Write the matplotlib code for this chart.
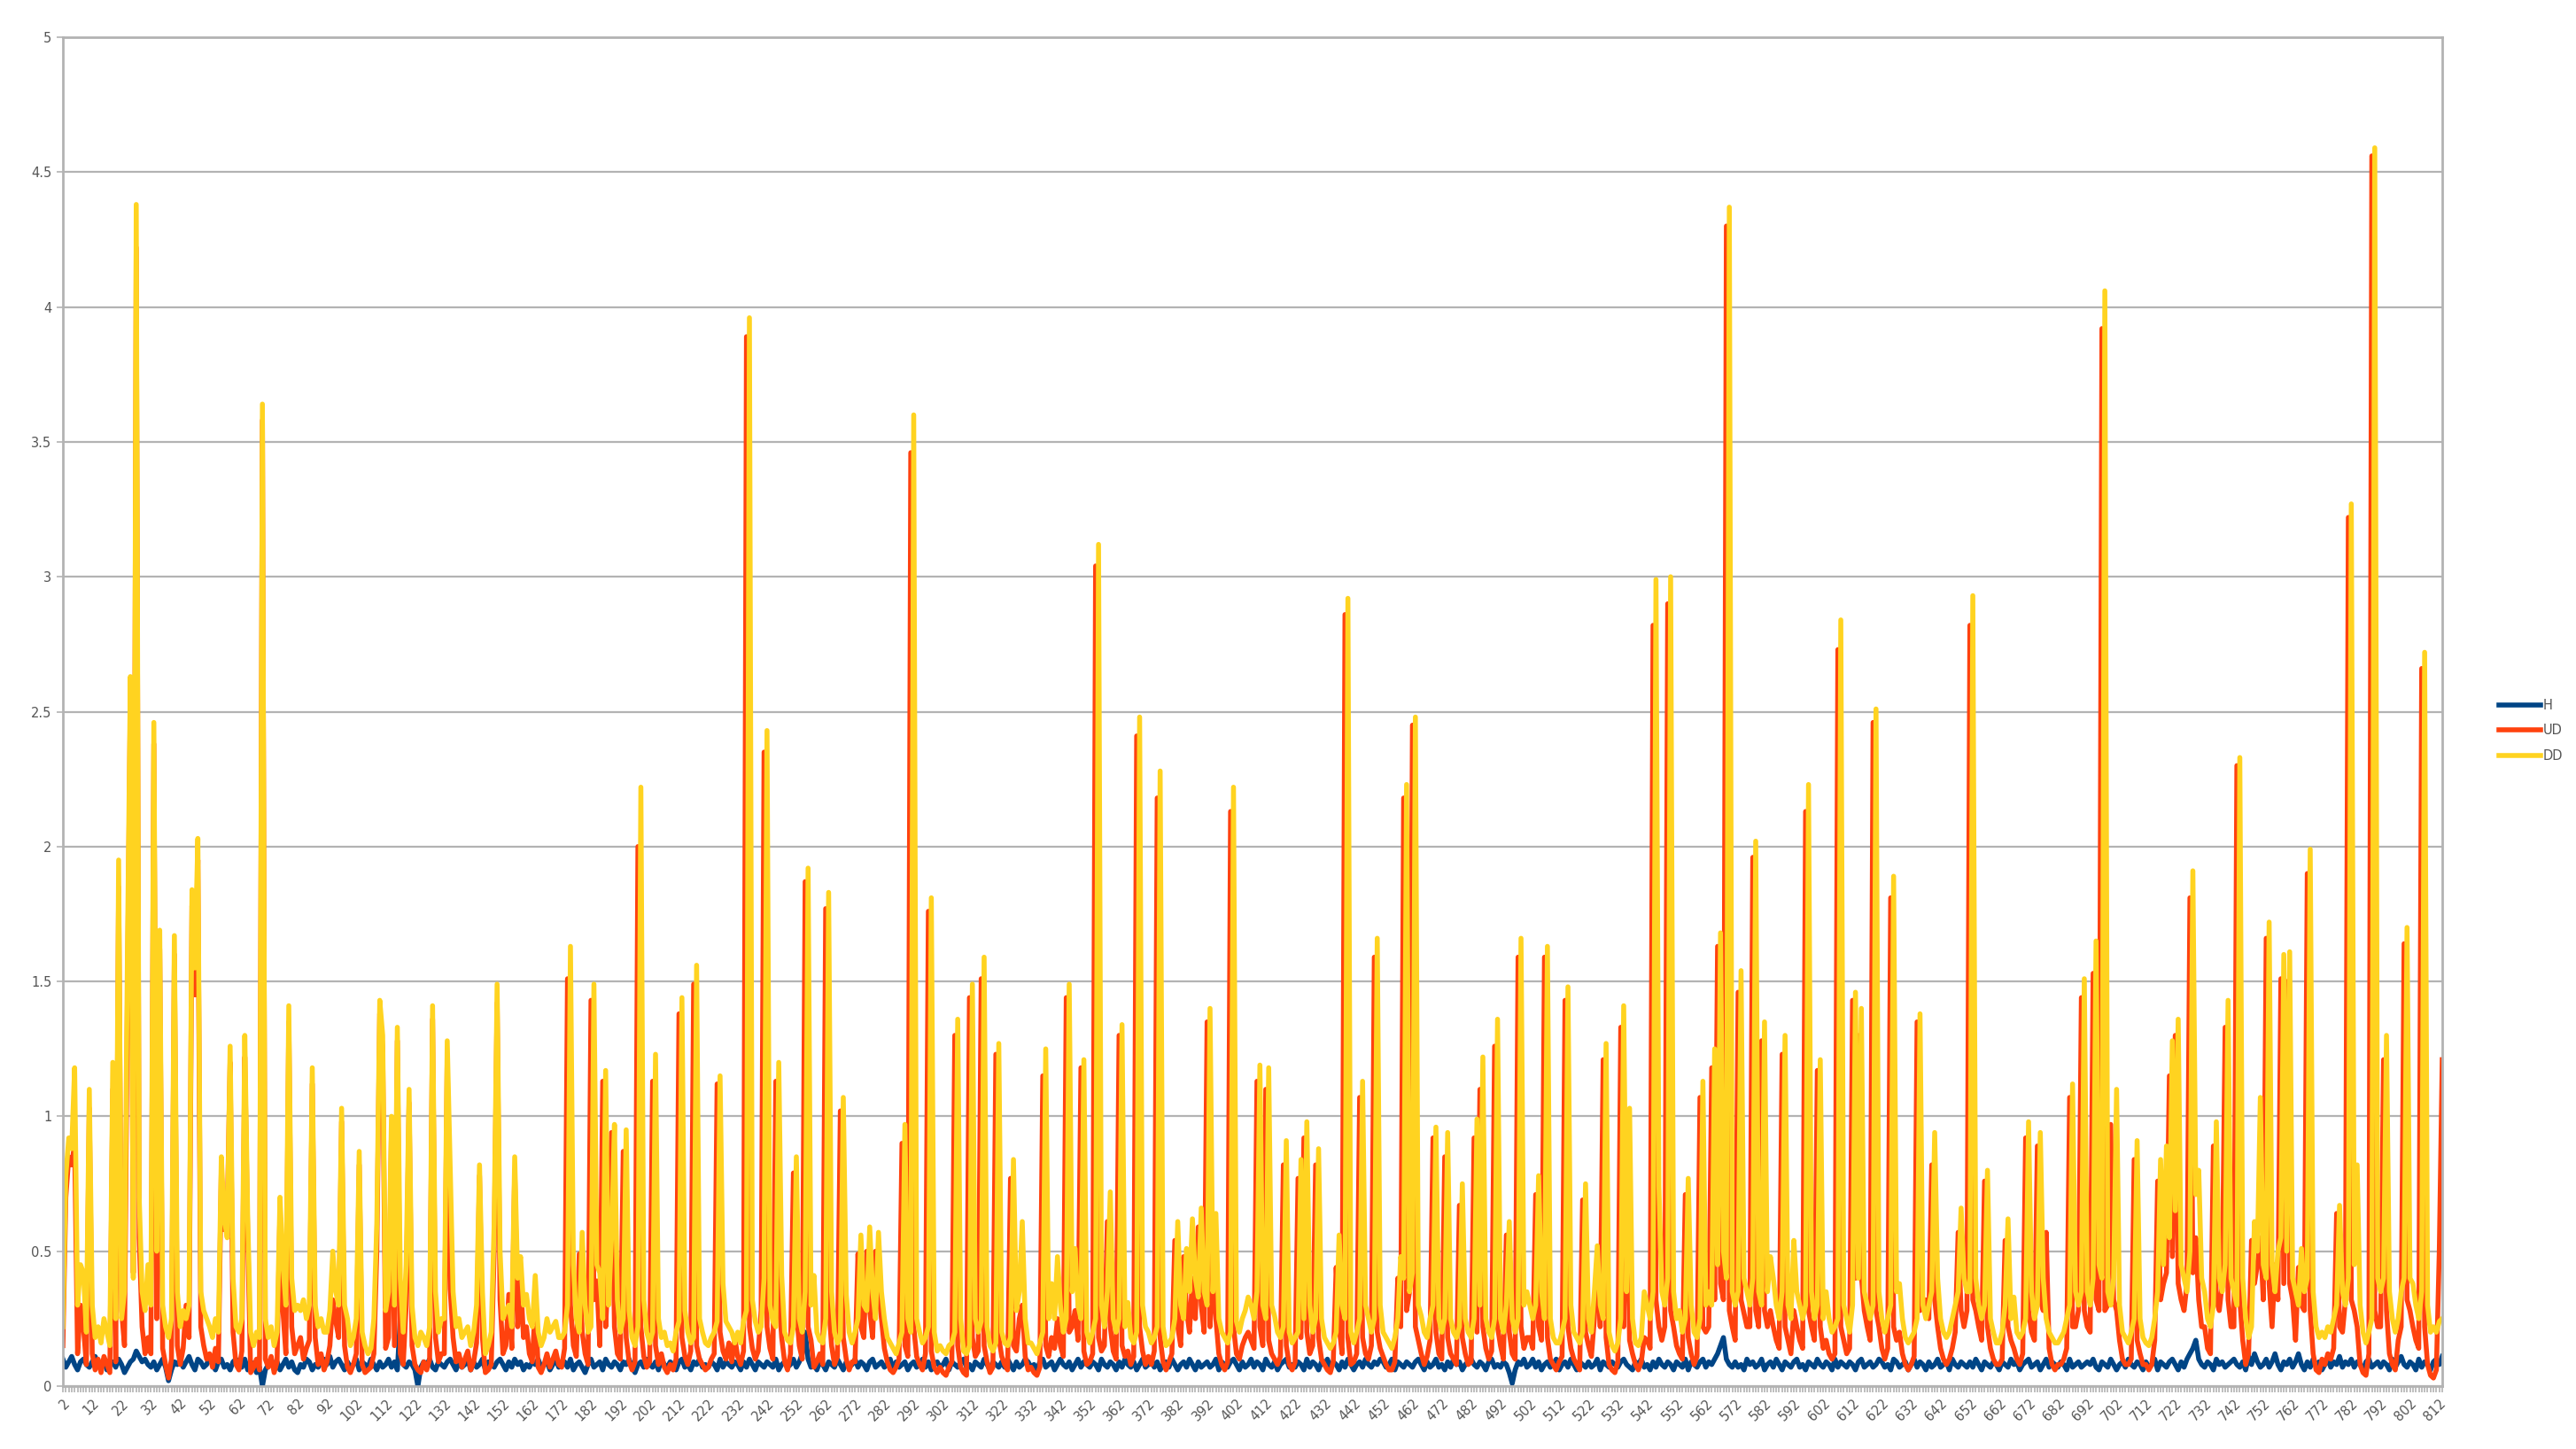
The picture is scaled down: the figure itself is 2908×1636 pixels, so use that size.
import numpy as np
import matplotlib.pyplot as plt

plt.rcParams["font.family"] = ["DejaVu Sans"]

# one row = one label step of 10 categories (2-11, 12-21, ...)
H = [
    0.10, 0.07, 0.09, 0.11, 0.08, 0.06, 0.09, 0.10, 0.08, 0.07,
    0.09, 0.11, 0.08, 0.07, 0.10, 0.06, 0.08, 0.09, 0.07, 0.10,
    0.08, 0.05, 0.07, 0.09, 0.10, 0.13, 0.11, 0.09, 0.10, 0.08,
    0.07, 0.09, 0.06, 0.08, 0.10, 0.07, 0.02, 0.06, 0.09, 0.08,
    0.10, 0.07, 0.09, 0.11, 0.08, 0.06, 0.10, 0.09, 0.07, 0.08,
    0.11, 0.08, 0.06, 0.09, 0.10, 0.07, 0.08, 0.06, 0.09, 0.10,
    0.08, 0.07, 0.10, 0.06, 0.09, 0.08, 0.05, 0.07, 0.00, 0.06,
    0.08, 0.10, 0.07, 0.09, 0.06, 0.08, 0.10, 0.07, 0.09, 0.06,
    0.05, 0.08, 0.07, 0.10, 0.09, 0.06, 0.08, 0.07, 0.09, 0.10,
    0.08, 0.11, 0.07, 0.09, 0.10, 0.08, 0.06, 0.09, 0.07, 0.08,
    0.10, 0.06, 0.09, 0.08, 0.07, 0.10, 0.08, 0.06, 0.09, 0.07,
    0.08, 0.10, 0.07, 0.09, 0.06, 0.25, 0.08, 0.07, 0.09, 0.08,
    0.06, 0.00, 0.07, 0.09, 0.08, 0.10, 0.07, 0.06, 0.09, 0.08,
    0.07, 0.09, 0.10, 0.08, 0.06, 0.09, 0.07, 0.08, 0.10, 0.06,
    0.09, 0.07, 0.08, 0.10, 0.06, 0.09, 0.08, 0.07, 0.09, 0.10,
    0.08, 0.06, 0.09, 0.07, 0.10, 0.08, 0.09, 0.06, 0.08, 0.07,
    0.09, 0.08, 0.10, 0.07, 0.08, 0.09, 0.06, 0.08, 0.10, 0.07,
    0.08, 0.09, 0.07, 0.10, 0.06, 0.08, 0.09, 0.07, 0.05, 0.08,
    0.10, 0.07, 0.08, 0.09, 0.06, 0.10, 0.08, 0.07, 0.09, 0.08,
    0.06, 0.09, 0.08, 0.10, 0.07, 0.05, 0.08, 0.09, 0.07, 0.10,
    0.08, 0.07, 0.09, 0.06, 0.10, 0.08, 0.07, 0.09, 0.08, 0.06,
    0.09, 0.10, 0.07, 0.08, 0.06, 0.09, 0.08, 0.10, 0.07, 0.08,
    0.07, 0.09, 0.08, 0.06, 0.10, 0.07, 0.09, 0.08, 0.07, 0.09,
    0.08, 0.06, 0.09, 0.07, 0.10, 0.08, 0.06, 0.09, 0.08, 0.07,
    0.09, 0.08, 0.07, 0.10, 0.06, 0.08, 0.09, 0.07, 0.08, 0.10,
    0.07, 0.09, 0.12, 0.20, 0.10, 0.07, 0.08, 0.06, 0.09, 0.08,
    0.06, 0.09, 0.08, 0.07, 0.10, 0.08, 0.06, 0.09, 0.07, 0.08,
    0.10, 0.07, 0.09, 0.08, 0.06, 0.09, 0.10, 0.07, 0.08, 0.09,
    0.07, 0.08, 0.10, 0.06, 0.09, 0.07, 0.08, 0.09, 0.06, 0.08,
    0.09, 0.07, 0.08, 0.10, 0.07, 0.09, 0.06, 0.08, 0.09, 0.07,
    0.08, 0.10, 0.06, 0.09, 0.08, 0.07, 0.09, 0.10, 0.07, 0.08,
    0.06, 0.09, 0.08, 0.07, 0.10, 0.08, 0.06, 0.09, 0.08, 0.07,
    0.09, 0.07, 0.10, 0.08, 0.06, 0.09, 0.07, 0.08, 0.10, 0.09,
    0.07, 0.08, 0.06, 0.09, 0.10, 0.07, 0.08, 0.09, 0.06, 0.08,
    0.10, 0.08, 0.07, 0.09, 0.06, 0.08, 0.10, 0.07, 0.09, 0.08,
    0.07, 0.09, 0.08, 0.06, 0.10, 0.08, 0.07, 0.09, 0.08, 0.06,
    0.09, 0.07, 0.10, 0.08, 0.07, 0.09, 0.06, 0.08, 0.10, 0.07,
    0.08, 0.10, 0.07, 0.09, 0.06, 0.08, 0.09, 0.07, 0.10, 0.08,
    0.06, 0.08, 0.09, 0.07, 0.10, 0.08, 0.06, 0.09, 0.07, 0.08,
    0.09, 0.07, 0.08, 0.10, 0.06, 0.09, 0.08, 0.07, 0.09, 0.10,
    0.08, 0.06, 0.09, 0.07, 0.08, 0.10, 0.07, 0.09, 0.08, 0.06,
    0.10, 0.08, 0.07, 0.09, 0.06, 0.08, 0.09, 0.10, 0.07, 0.08,
    0.07, 0.09, 0.08, 0.06, 0.10, 0.07, 0.09, 0.08, 0.06, 0.09,
    0.08, 0.10, 0.07, 0.09, 0.08, 0.06, 0.09, 0.07, 0.10, 0.08,
    0.06, 0.08, 0.09, 0.07, 0.10, 0.08, 0.07, 0.09, 0.08, 0.10,
    0.09, 0.07, 0.08, 0.10, 0.06, 0.09, 0.08, 0.07, 0.09, 0.08,
    0.07, 0.09, 0.10, 0.08, 0.06, 0.09, 0.07, 0.08, 0.10, 0.07,
    0.08, 0.06, 0.09, 0.07, 0.10, 0.08, 0.09, 0.06, 0.08, 0.09,
    0.10, 0.08, 0.07, 0.09, 0.08, 0.06, 0.09, 0.10, 0.07, 0.08,
    0.07, 0.09, 0.08, 0.05, 0.01, 0.06, 0.09, 0.08, 0.10, 0.07,
    0.08, 0.10, 0.07, 0.09, 0.06, 0.08, 0.09, 0.07, 0.08, 0.10,
    0.06, 0.08, 0.09, 0.07, 0.10, 0.08, 0.06, 0.09, 0.08, 0.07,
    0.09, 0.07, 0.08, 0.10, 0.06, 0.09, 0.08, 0.07, 0.09, 0.08,
    0.07, 0.09, 0.10, 0.08, 0.07, 0.06, 0.09, 0.08, 0.10, 0.07,
    0.08, 0.06, 0.09, 0.07, 0.10, 0.08, 0.07, 0.09, 0.08, 0.06,
    0.09, 0.08, 0.07, 0.10, 0.06, 0.09, 0.08, 0.07, 0.09, 0.10,
    0.07, 0.09, 0.08, 0.10, 0.12, 0.15, 0.18, 0.10, 0.08, 0.07,
    0.09, 0.07, 0.08, 0.06, 0.10, 0.08, 0.09, 0.07, 0.08, 0.10,
    0.06, 0.08, 0.09, 0.07, 0.10, 0.08, 0.06, 0.09, 0.08, 0.07,
    0.09, 0.10, 0.07, 0.08, 0.06, 0.09, 0.08, 0.07, 0.10, 0.08,
    0.07, 0.09, 0.08, 0.06, 0.10, 0.07, 0.09, 0.08, 0.07, 0.09,
    0.08, 0.06, 0.09, 0.10, 0.07, 0.08, 0.09, 0.07, 0.08, 0.10,
    0.09, 0.07, 0.08, 0.06, 0.10, 0.09, 0.07, 0.08, 0.09, 0.06,
    0.08, 0.10, 0.07, 0.09, 0.08, 0.06, 0.09, 0.07, 0.08, 0.10,
    0.07, 0.08, 0.09, 0.06, 0.10, 0.08, 0.07, 0.09, 0.08, 0.07,
    0.09, 0.07, 0.10, 0.08, 0.06, 0.09, 0.08, 0.07, 0.09, 0.08,
    0.06, 0.09, 0.08, 0.07, 0.10, 0.08, 0.09, 0.06, 0.08, 0.09,
    0.10, 0.07, 0.08, 0.09, 0.06, 0.08, 0.10, 0.07, 0.09, 0.08,
    0.07, 0.09, 0.08, 0.06, 0.10, 0.07, 0.08, 0.09, 0.07, 0.08,
    0.09, 0.08, 0.10, 0.07, 0.06, 0.09, 0.08, 0.07, 0.10, 0.08,
    0.06, 0.08, 0.09, 0.07, 0.10, 0.08, 0.07, 0.09, 0.08, 0.06,
    0.09, 0.07, 0.08, 0.10, 0.06, 0.09, 0.08, 0.07, 0.09, 0.10,
    0.08, 0.06, 0.09, 0.07, 0.10, 0.12, 0.14, 0.17, 0.10, 0.08,
    0.07, 0.09, 0.08, 0.06, 0.10, 0.08, 0.09, 0.07, 0.08, 0.09,
    0.10, 0.08, 0.07, 0.09, 0.06, 0.11, 0.08, 0.12, 0.09, 0.07,
    0.08, 0.10, 0.07, 0.09, 0.12, 0.08, 0.06, 0.09, 0.08, 0.10,
    0.07, 0.09, 0.12, 0.08, 0.06, 0.09, 0.07, 0.10, 0.08, 0.09,
    0.06, 0.08, 0.10, 0.07, 0.09, 0.08, 0.11, 0.07, 0.09, 0.08,
    0.10, 0.07, 0.09, 0.08, 0.06, 0.09, 0.10, 0.07, 0.08, 0.09,
    0.07, 0.09, 0.08, 0.06, 0.10, 0.07, 0.09, 0.11, 0.08, 0.07,
    0.09, 0.08, 0.06, 0.10, 0.07, 0.09, 0.08, 0.06, 0.09, 0.10,
    0.08, 0.11,
]

UD = [
    0.15, 0.70, 0.85, 0.82, 0.90, 0.12, 0.30, 0.22, 0.08, 1.03,
    0.12, 0.06, 0.10, 0.05, 0.11, 0.08, 0.05, 1.10, 0.09, 1.85,
    0.28, 0.15, 1.45, 2.55, 0.42, 4.22, 0.55, 0.22, 0.12, 0.18,
    0.12, 2.38, 0.25, 1.62, 0.14, 0.08, 0.03, 0.10, 1.60, 0.15,
    0.08, 0.14, 0.30, 0.18, 1.78, 1.45, 1.95, 0.22, 0.15, 0.10,
    0.12, 0.07, 0.14, 0.09, 0.80, 0.58, 0.62, 1.20, 0.20, 0.08,
    0.06, 0.13, 1.22, 0.55, 0.05, 0.07, 0.10, 0.06, 3.58, 0.10,
    0.07, 0.11, 0.05, 0.09, 0.65, 0.28, 0.12, 1.35, 0.22, 0.12,
    0.15, 0.18, 0.10, 0.14, 0.17, 1.12, 0.18, 0.08, 0.12, 0.06,
    0.09, 0.15, 0.32, 0.24, 0.18, 0.98, 0.15, 0.07, 0.05, 0.08,
    0.12, 0.82, 0.08, 0.05, 0.06, 0.07, 0.12, 0.50, 1.38, 1.25,
    0.14, 0.18, 0.95, 0.15, 1.28, 0.12, 0.08, 0.30, 1.05, 0.15,
    0.08, 0.06, 0.05, 0.09, 0.06, 0.10, 1.36, 0.18, 0.09, 0.12,
    0.12, 1.22, 0.36, 0.18, 0.09, 0.12, 0.07, 0.10, 0.13, 0.06,
    0.09, 0.16, 0.78, 0.18, 0.05, 0.06, 0.08, 0.50, 1.42, 0.32,
    0.12, 0.15, 0.34, 0.14, 0.80, 0.22, 0.40, 0.18, 0.22, 0.12,
    0.09, 0.30, 0.07, 0.05, 0.08, 0.12, 0.07, 0.10, 0.13, 0.08,
    0.07, 0.14, 1.51, 0.30, 0.15, 0.11, 0.49, 0.20, 0.12, 0.08,
    1.43, 0.32, 0.39, 0.15, 1.13, 0.22, 0.45, 0.94, 0.22, 0.12,
    0.10, 0.87, 0.18, 0.09, 0.06, 0.09, 2.00, 0.22, 0.11, 0.07,
    0.09, 1.13, 0.15, 0.08, 0.12, 0.07, 0.05, 0.08, 0.06, 0.10,
    1.38, 0.18, 0.11, 0.08, 0.13, 1.49, 0.15, 0.10, 0.08, 0.06,
    0.07, 0.10, 0.12, 1.12, 0.20, 0.13, 0.10, 0.16, 0.09, 0.18,
    0.11, 0.08, 0.13, 3.89, 0.22, 0.14, 0.10, 0.13, 0.28, 2.35,
    0.22, 0.14, 0.10, 1.13, 0.33, 0.18, 0.09, 0.06, 0.12, 0.79,
    0.28, 0.15, 0.10, 1.87, 0.22, 0.17, 0.07, 0.09, 0.12, 0.08,
    1.77, 0.31, 0.15, 0.08, 0.11, 1.02, 0.18, 0.10, 0.06, 0.09,
    0.09, 0.49, 0.22, 0.18, 0.50, 0.28, 0.18, 0.50, 0.35, 0.25,
    0.14, 0.09, 0.06, 0.05, 0.07, 0.10, 0.90, 0.15, 0.11, 3.46,
    0.22, 0.11, 0.08, 0.06, 0.12, 1.76, 0.13, 0.07, 0.05, 0.07,
    0.05, 0.04, 0.07, 0.09, 1.30, 0.15, 0.07, 0.05, 0.04, 1.44,
    0.18, 0.11, 0.13, 1.51, 0.15, 0.09, 0.05, 0.07, 1.23, 0.18,
    0.11, 0.08, 0.06, 0.77, 0.15, 0.13, 0.25, 0.30, 0.11, 0.06,
    0.07, 0.05, 0.04, 0.07, 1.15, 0.15, 0.11, 0.18, 0.14, 0.25,
    0.15, 0.11, 1.44, 0.20, 0.22, 0.28, 0.17, 1.18, 0.13, 0.08,
    0.09, 0.12, 3.04, 0.18, 0.13, 0.15, 0.61, 0.22, 0.13, 0.10,
    1.30, 0.15, 0.11, 0.13, 0.08, 0.11, 2.41, 0.22, 0.13, 0.08,
    0.11, 0.08, 0.13, 2.18, 0.18, 0.09, 0.06, 0.09, 0.12, 0.54,
    0.22, 0.15, 0.48, 0.28, 0.20, 0.40, 0.25, 0.59, 0.30, 0.20,
    1.35, 0.22, 0.45, 0.25, 0.12, 0.08, 0.06, 0.09, 2.13, 0.22,
    0.12, 0.10, 0.15, 0.18, 0.20, 0.17, 0.14, 1.13, 0.22, 0.15,
    1.10, 0.17, 0.12, 0.10, 0.08, 0.11, 0.82, 0.15, 0.08, 0.06,
    0.09, 0.77, 0.18, 0.92, 0.20, 0.12, 0.15, 0.82, 0.18, 0.10,
    0.08, 0.06, 0.05, 0.09, 0.44, 0.22, 0.12, 2.86, 0.18, 0.08,
    0.09, 0.12, 1.07, 0.18, 0.12, 0.10, 0.15, 1.59, 0.20, 0.14,
    0.11, 0.08, 0.06, 0.06, 0.09, 0.40, 0.22, 2.18, 0.28, 0.35,
    2.45, 0.22, 0.17, 0.12, 0.08, 0.11, 0.17, 0.92, 0.20, 0.12,
    0.10, 0.85, 0.18, 0.12, 0.10, 0.08, 0.67, 0.18, 0.12, 0.08,
    0.09, 0.92, 0.20, 1.10, 0.22, 0.14, 0.10, 0.13, 1.26, 0.22,
    0.15, 0.10, 0.56, 0.20, 0.12, 0.10, 1.59, 0.22, 0.14, 0.18,
    0.18, 0.14, 0.71, 0.22, 0.17, 1.59, 0.18, 0.10, 0.08, 0.06,
    0.09, 0.11, 1.43, 0.22, 0.14, 0.10, 0.08, 0.06, 0.69, 0.20,
    0.15, 0.11, 0.25, 0.48, 0.22, 1.21, 0.18, 0.08, 0.06, 0.05,
    0.09, 1.33, 0.22, 0.95, 0.17, 0.12, 0.08, 0.06, 0.09, 0.18,
    0.17, 0.14, 2.82, 0.32, 0.22, 0.17, 0.22, 2.90, 0.28, 0.22,
    0.15, 0.12, 0.10, 0.71, 0.18, 0.12, 0.08, 0.11, 1.07, 0.22,
    0.20, 0.22, 1.18, 0.32, 1.63, 0.38, 0.32, 4.30, 0.28, 0.22,
    0.17, 1.46, 0.32, 0.27, 0.22, 0.22, 1.96, 0.28, 0.22, 1.28,
    0.28, 0.22, 0.28, 0.22, 0.17, 0.14, 1.23, 0.22, 0.17, 0.12,
    0.28, 0.22, 0.17, 0.14, 2.13, 0.28, 0.22, 0.17, 1.17, 0.22,
    0.14, 0.17, 0.12, 0.10, 0.12, 2.73, 0.22, 0.17, 0.12, 0.14,
    1.43, 0.40, 1.30, 0.41, 0.28, 0.22, 0.17, 2.46, 0.28, 0.22,
    0.14, 0.10, 0.14, 1.81, 0.22, 0.17, 0.20, 0.12, 0.08, 0.06,
    0.08, 0.11, 1.35, 0.28, 0.30, 0.32, 0.25, 0.82, 0.32, 0.22,
    0.14, 0.10, 0.08, 0.10, 0.14, 0.20, 0.57, 0.28, 0.22, 0.28,
    2.82, 0.32, 0.28, 0.22, 0.17, 0.76, 0.22, 0.14, 0.10, 0.08,
    0.08, 0.10, 0.54, 0.22, 0.17, 0.14, 0.10, 0.08, 0.12, 0.92,
    0.28, 0.20, 0.17, 0.89, 0.32, 0.28, 0.57, 0.14, 0.08, 0.06,
    0.08, 0.08, 0.10, 0.14, 1.07, 0.22, 0.22, 0.28, 1.44, 0.28,
    0.22, 0.20, 1.53, 0.32, 0.28, 3.92, 0.28, 0.30, 0.97, 0.32,
    0.28, 0.17, 0.10, 0.08, 0.08, 0.10, 0.84, 0.17, 0.12, 0.08,
    0.08, 0.06, 0.08, 0.17, 0.76, 0.32, 0.38, 0.42, 1.15, 0.48,
    1.30, 0.38, 0.32, 0.28, 0.38, 1.81, 0.42, 0.55, 0.32, 0.22,
    0.22, 0.14, 0.12, 0.89, 0.32, 0.28, 0.38, 1.33, 0.32, 0.22,
    0.22, 2.30, 0.32, 0.17, 0.08, 0.12, 0.54, 0.38, 0.45, 0.55,
    0.32, 1.66, 0.38, 0.22, 0.45, 0.32, 1.51, 0.38, 1.50, 0.38,
    0.32, 0.17, 0.44, 0.30, 0.28, 1.90, 0.28, 0.12, 0.06, 0.05,
    0.10, 0.08, 0.12, 0.10, 0.14, 0.64, 0.22, 0.20, 0.32, 3.22,
    0.32, 0.28, 0.22, 0.08, 0.05, 0.04, 0.12, 4.56, 0.28, 0.22,
    0.22, 1.21, 0.28, 0.12, 0.08, 0.06, 0.17, 0.22, 1.64, 0.32,
    0.28, 0.22, 0.17, 0.14, 2.66, 0.22, 0.08, 0.04, 0.03, 0.06,
    0.50, 1.21,
]

DD = [
    0.22, 0.78, 0.92, 0.88, 1.18, 0.30, 0.45, 0.42, 0.20, 1.10,
    0.30, 0.18, 0.22, 0.16, 0.25, 0.20, 0.15, 1.20, 0.25, 1.95,
    0.25, 0.35, 1.60, 2.63, 0.40, 4.38, 0.70, 0.35, 0.28, 0.45,
    0.30, 2.46, 0.50, 1.69, 0.30, 0.22, 0.18, 0.25, 1.67, 0.35,
    0.22, 0.28, 0.25, 0.30, 1.84, 1.55, 2.03, 0.35, 0.28, 0.25,
    0.22, 0.18, 0.25, 0.20, 0.85, 0.62, 0.55, 1.26, 0.40, 0.22,
    0.20, 0.25, 1.30, 0.62, 0.20, 0.15, 0.20, 0.18, 3.64, 0.25,
    0.18, 0.22, 0.15, 0.20, 0.70, 0.45, 0.30, 1.41, 0.40, 0.28,
    0.30, 0.28, 0.32, 0.25, 0.30, 1.18, 0.30, 0.22, 0.25, 0.20,
    0.20, 0.28, 0.50, 0.35, 0.30, 1.03, 0.30, 0.25, 0.15, 0.18,
    0.25, 0.87, 0.20, 0.15, 0.12, 0.14, 0.25, 0.60, 1.43, 1.30,
    0.28, 0.35, 1.00, 0.30, 1.33, 0.40, 0.20, 0.45, 1.10, 0.30,
    0.18, 0.15, 0.20, 0.18, 0.15, 0.22, 1.41, 0.35, 0.20, 0.25,
    0.25, 1.28, 0.82, 0.35, 0.22, 0.25, 0.18, 0.20, 0.22, 0.15,
    0.20, 0.30, 0.82, 0.35, 0.12, 0.15, 0.20, 0.60, 1.49, 0.50,
    0.25, 0.28, 0.30, 0.22, 0.85, 0.40, 0.48, 0.30, 0.34, 0.25,
    0.22, 0.41, 0.20, 0.15, 0.18, 0.25, 0.20, 0.22, 0.24, 0.18,
    0.18, 0.20, 0.30, 1.63, 0.45, 0.25, 0.20, 0.57, 0.30, 0.20,
    0.22, 1.49, 0.45, 0.42, 0.25, 1.17, 0.30, 0.55, 0.97, 0.32,
    0.20, 0.25, 0.95, 0.28, 0.18, 0.15, 0.22, 2.22, 0.32, 0.20,
    0.16, 0.20, 1.23, 0.25, 0.18, 0.20, 0.15, 0.16, 0.13, 0.20,
    0.24, 1.44, 0.28, 0.20, 0.16, 0.18, 1.56, 0.25, 0.20, 0.16,
    0.15, 0.18, 0.20, 0.24, 1.15, 0.38, 0.24, 0.22, 0.20, 0.16,
    0.20, 0.16, 0.24, 0.28, 3.96, 0.32, 0.24, 0.20, 0.22, 0.40,
    2.43, 0.30, 0.24, 0.22, 1.20, 0.41, 0.20, 0.17, 0.16, 0.22,
    0.85, 0.25, 0.20, 0.35, 1.92, 0.30, 0.41, 0.20, 0.17, 0.16,
    0.25, 1.83, 0.35, 0.20, 0.16, 0.18, 1.07, 0.34, 0.20, 0.16,
    0.20, 0.25, 0.56, 0.30, 0.28, 0.59, 0.35, 0.25, 0.57, 0.35,
    0.25, 0.18, 0.16, 0.14, 0.12, 0.16, 0.20, 0.97, 0.25, 0.20,
    3.60, 0.25, 0.20, 0.16, 0.18, 0.22, 1.81, 0.20, 0.13, 0.15,
    0.13, 0.12, 0.15, 0.16, 0.20, 1.36, 0.25, 0.13, 0.12, 0.15,
    1.49, 0.25, 0.20, 0.24, 1.59, 0.22, 0.15, 0.13, 0.16, 1.27,
    0.20, 0.16, 0.15, 0.18, 0.84, 0.28, 0.35, 0.61, 0.25, 0.16,
    0.16, 0.14, 0.12, 0.16, 0.20, 1.25, 0.25, 0.38, 0.25, 0.48,
    0.30, 0.20, 0.25, 1.49, 0.35, 0.51, 0.30, 0.25, 1.21, 0.20,
    0.16, 0.20, 0.25, 3.12, 0.30, 0.22, 0.35, 0.72, 0.25, 0.20,
    0.25, 1.34, 0.22, 0.31, 0.18, 0.16, 0.20, 2.48, 0.30, 0.22,
    0.20, 0.16, 0.18, 0.22, 2.28, 0.22, 0.15, 0.16, 0.18, 0.25,
    0.61, 0.30, 0.25, 0.51, 0.35, 0.62, 0.40, 0.33, 0.66, 0.35,
    0.30, 1.40, 0.35, 0.64, 0.25, 0.20, 0.18, 0.16, 0.20, 2.22,
    0.24, 0.20, 0.25, 0.28, 0.33, 0.30, 0.25, 0.35, 1.19, 0.30,
    0.25, 1.18, 0.30, 0.26, 0.20, 0.18, 0.22, 0.91, 0.20, 0.16,
    0.18, 0.20, 0.84, 0.25, 0.98, 0.30, 0.20, 0.25, 0.88, 0.25,
    0.18, 0.16, 0.14, 0.16, 0.20, 0.56, 0.30, 0.25, 2.92, 0.20,
    0.16, 0.20, 0.25, 1.13, 0.30, 0.25, 0.20, 0.25, 1.66, 0.30,
    0.20, 0.18, 0.16, 0.14, 0.18, 0.25, 0.48, 0.40, 2.23, 0.35,
    0.42, 2.48, 0.30, 0.26, 0.20, 0.18, 0.25, 0.30, 0.96, 0.25,
    0.20, 0.25, 0.94, 0.25, 0.20, 0.18, 0.22, 0.75, 0.25, 0.20,
    0.18, 0.25, 0.99, 0.30, 1.22, 0.25, 0.20, 0.18, 0.25, 1.36,
    0.25, 0.20, 0.30, 0.61, 0.25, 0.20, 0.25, 1.66, 0.30, 0.35,
    0.30, 0.25, 0.30, 0.78, 0.35, 0.25, 1.63, 0.25, 0.18, 0.16,
    0.16, 0.20, 0.25, 1.48, 0.30, 0.20, 0.18, 0.16, 0.20, 0.75,
    0.25, 0.20, 0.35, 0.52, 0.30, 0.25, 1.27, 0.20, 0.15, 0.13,
    0.16, 0.25, 1.41, 0.35, 1.03, 0.25, 0.16, 0.15, 0.18, 0.35,
    0.30, 0.25, 0.35, 2.99, 0.74, 0.35, 0.30, 0.40, 3.00, 0.35,
    0.25, 0.28, 0.20, 0.25, 0.77, 0.30, 0.20, 0.18, 0.25, 1.13,
    0.30, 0.35, 0.30, 1.25, 0.45, 1.68, 0.50, 0.40, 4.37, 0.35,
    0.30, 0.35, 1.54, 0.40, 0.35, 0.30, 0.40, 2.02, 0.35, 0.30,
    1.35, 0.35, 0.48, 0.40, 0.30, 0.25, 0.35, 1.30, 0.30, 0.25,
    0.54, 0.35, 0.30, 0.25, 0.30, 2.23, 0.35, 0.25, 0.30, 1.21,
    0.25, 0.35, 0.25, 0.20, 0.22, 0.25, 2.84, 0.30, 0.25, 0.20,
    0.30, 1.46, 0.40, 1.40, 0.35, 0.30, 0.25, 0.30, 2.51, 0.35,
    0.25, 0.20, 0.25, 0.30, 1.89, 0.35, 0.38, 0.25, 0.18, 0.16,
    0.18, 0.20, 0.25, 1.38, 0.30, 0.25, 0.30, 0.35, 0.94, 0.40,
    0.25, 0.20, 0.18, 0.20, 0.25, 0.30, 0.35, 0.66, 0.40, 0.35,
    0.35, 2.93, 0.40, 0.30, 0.25, 0.30, 0.80, 0.25, 0.20, 0.16,
    0.16, 0.20, 0.30, 0.62, 0.25, 0.33, 0.20, 0.18, 0.20, 0.25,
    0.98, 0.35, 0.25, 0.30, 0.94, 0.40, 0.25, 0.20, 0.18, 0.16,
    0.16, 0.18, 0.20, 0.25, 0.30, 1.12, 0.35, 0.30, 0.35, 1.51,
    0.35, 0.30, 0.40, 1.65, 0.45, 0.40, 4.06, 0.35, 0.30, 0.40,
    1.10, 0.30, 0.20, 0.18, 0.16, 0.20, 0.25, 0.91, 0.25, 0.18,
    0.16, 0.15, 0.18, 0.25, 0.35, 0.84, 0.45, 0.89, 0.55, 1.28,
    0.65, 1.36, 0.45, 0.40, 0.35, 0.50, 1.91, 0.71, 0.80, 0.40,
    0.35, 0.25, 0.22, 0.30, 0.98, 0.40, 0.35, 0.45, 1.43, 0.40,
    0.35, 0.30, 2.33, 0.40, 0.25, 0.18, 0.22, 0.61, 0.50, 1.07,
    0.45, 0.40, 1.72, 0.45, 0.35, 0.50, 0.55, 1.60, 0.50, 1.61,
    0.40, 0.35, 0.30, 0.51, 0.35, 0.40, 1.99, 0.35, 0.22, 0.18,
    0.20, 0.18, 0.22, 0.20, 0.25, 0.30, 0.67, 0.35, 0.30, 0.40,
    3.27, 0.45, 0.82, 0.30, 0.20, 0.16, 0.20, 0.25, 4.59, 0.40,
    0.35, 0.40, 1.30, 0.35, 0.25, 0.20, 0.25, 0.35, 0.40, 1.70,
    0.40, 0.38, 0.30, 0.25, 0.35, 2.72, 0.30, 0.20, 0.22, 0.20,
    0.24, 0.25,
]

series_names = ["H", "UD", "DD"]
series_colors = ["#004586", "#ff420e", "#ffd320"]
first_row = 2

W, Hpx = 2908, 1636
fig = plt.figure(figsize=(W / 100, Hpx / 100), dpi=100)
ax = fig.add_axes([71 / W, 1 - 1565 / Hpx, (2757 - 71) / W, (1565 - 42) / Hpx])

for name, vals, col in zip(series_names, [H, UD, DD], series_colors):
    x = np.arange(first_row, first_row + len(vals))
    ax.plot(x, vals, color=col, linewidth=4.0, label=name)

last = first_row + max(len(H), len(UD), len(DD)) - 1
ax.set_xlim(first_row, last)
ax.set_ylim(0, 5)

yt = np.arange(0, 5.01, 0.5)
ax.set_yticks(yt)
ax.set_yticklabels([("%g" % v) for v in yt])
xt = np.arange(first_row, last + 1, 10)
ax.set_xticks(xt)
ax.set_xticklabels([str(v) for v in xt], rotation=45, ha="right", va="top",
                   rotation_mode="anchor")
ax.set_xticks(np.arange(first_row, last + 1), minor=True)

ax.grid(True, axis="y", color="#b3b3b3", linewidth=1.6)
ax.set_axisbelow(True)
for s in ax.spines.values():
    s.set_color("#b3b3b3")
    s.set_linewidth(2)
ax.tick_params(axis="both", which="both", color="#b3b3b3", width=1.2,
               labelsize=10.5, labelcolor="#555555")
ax.tick_params(axis="x", which="both", length=5)
ax.tick_params(axis="y", length=5, pad=4)

fig.legend(loc="center left", bbox_to_anchor=(2808 / W, 1 - 825 / Hpx),
           frameon=False, fontsize=10.5, handlelength=3.2, labelspacing=0.9,
           handletextpad=0.2, labelcolor="#555555")

fig.savefig("out.png", dpi=100)
